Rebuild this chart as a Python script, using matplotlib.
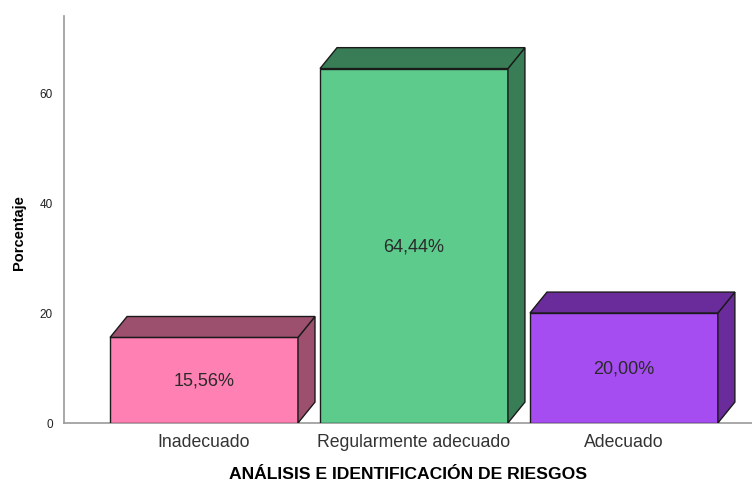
import numpy as np
import matplotlib.pyplot as plt
from matplotlib.patches import Polygon

plt.rcParams['font.family'] = ['Liberation Sans', 'DejaVu Sans']

categories = ["Inadecuado", "Regularmente adecuado", "Adecuado"]
values = [15.56, 64.44, 20.00]
labels = ["15,56%", "64,44%", "20,00%"]
front_colors = ["#FF80B3", "#5CCB8C", "#A64DF2"]
dark_colors = ["#9C506D", "#387D55", "#692C9A"]

width = 0.895
dx = 0.081
dy = 3.8

fig = plt.figure(figsize=(7.52, 4.85), dpi=100)
ax = fig.add_axes([0.0851, 0.1258, 0.9149, 0.8392])

for i, (v, fc, dc, lab) in enumerate(zip(values, front_colors, dark_colors, labels)):
    x0 = i - width / 2
    x1 = i + width / 2
    # front face
    ax.add_patch(Polygon([(x0, 0), (x1, 0), (x1, v), (x0, v)], closed=True,
                         facecolor=fc, edgecolor="#1a1a1a", lw=1.0, zorder=3))
    # side face
    ax.add_patch(Polygon([(x1, 0), (x1 + dx, dy), (x1 + dx, v + dy), (x1, v)], closed=True,
                         facecolor=dc, edgecolor="#1a1a1a", lw=1.0, zorder=3))
    # top face
    ax.add_patch(Polygon([(x0, v), (x1, v), (x1 + dx, v + dy), (x0 + dx, v + dy)], closed=True,
                         facecolor=dc, edgecolor="#1a1a1a", lw=1.0, zorder=3))
    ax.text(i, v / 2, lab, ha="center", va="center", fontsize=13, color="#2a2a2a", zorder=4)

ax.set_xlim(-0.667, 2.61)
ax.set_ylim(0, 74)
ax.set_xticks(range(len(categories)))
ax.set_xticklabels(categories, fontsize=12.7, color="#333333")
ax.set_yticks([0, 20, 40, 60])
ax.tick_params(axis="y", labelsize=8.5, length=0, pad=8, colors="#222222")
ax.tick_params(axis="x", length=0, pad=7)

for s in ["top", "right"]:
    ax.spines[s].set_visible(False)
ax.spines["left"].set_color("#999999")
ax.spines["bottom"].set_color("#999999")
ax.spines["left"].set_linewidth(1.2)
ax.spines["bottom"].set_linewidth(1.2)

ax.set_ylabel("Porcentaje", fontsize=10.5, fontweight="bold", labelpad=14)
ax.yaxis.set_label_coords(-0.055, 0.47)
ax.set_xlabel("ANÁLISIS E IDENTIFICACIÓN DE RIESGOS", fontsize=12.6, fontweight="bold", labelpad=12)

fig.savefig("out.png", dpi=100)
